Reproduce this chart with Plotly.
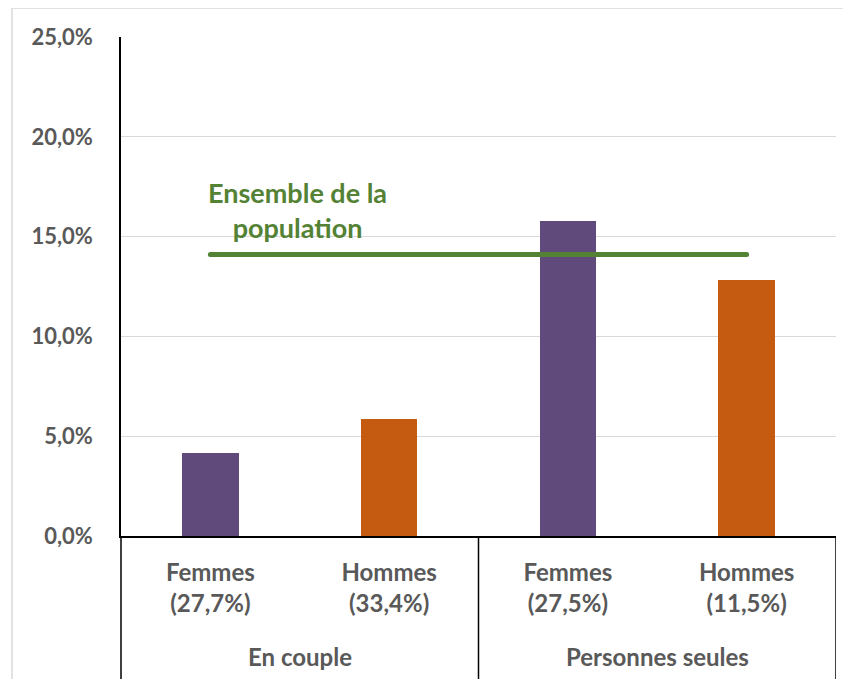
import plotly.graph_objects as go

# ---- data ----
categories = ["Femmes<br>(27,7%)", "Hommes<br>(33,4%)", "Femmes<br>(27,5%)", "Hommes<br>(11,5%)"]
groups = ["En couple", "Personnes seules"]
values = [0.0415, 0.0585, 0.158, 0.1285]
bar_colors = ["#604A7B", "#C55A11", "#604A7B", "#C55A11"]
ensemble_value = 0.141
ensemble_label = "Ensemble de la<br>population"
y_ticks = [0, 0.05, 0.10, 0.15, 0.20, 0.25]

OFF = 8  # page body margin
W, H = 851 - OFF, 679 - OFF
# target plot area in window pixels
PX0, PX1, PY0, PY1 = 121, 836, 37, 536
L = PX0 - OFF
R = W - (PX1 - OFF)
T = PY0 - OFF
B = H - (PY1 - OFF)
pw = PX1 - PX0
ph = PY1 - PY0

xpos = list(range(len(categories)))

fig = go.Figure()
fig.add_trace(go.Bar(
    x=xpos, y=values, marker_color=bar_colors, width=0.315,
    marker_line_width=0, hoverinfo="skip", showlegend=False,
))
fig.add_trace(go.Scatter(
    x=[xpos[0], xpos[-1]], y=[ensemble_value, ensemble_value],
    mode="lines+markers", line=dict(color="#548235", width=5),
    marker=dict(color="#548235", size=5, symbol="circle", line_width=0),
    hoverinfo="skip", showlegend=False,
))

gray = "#595959"
font_family = "Lato, Open Sans, sans-serif"

def px_to_xpaper(px):  # window px
    return (px - PX0) / pw

def px_to_ypaper(py):  # window px
    return (PY1 - py) / ph

shapes = []
# outer light border (top & left)
shapes.append(dict(type="line", xref="paper", yref="paper",
                   x0=px_to_xpaper(12), x1=px_to_xpaper(860), y0=px_to_ypaper(8), y1=px_to_ypaper(8),
                   line=dict(color="#D9D9D9", width=1.5)))
shapes.append(dict(type="line", xref="paper", yref="paper",
                   x0=px_to_xpaper(12), x1=px_to_xpaper(12), y0=px_to_ypaper(8), y1=px_to_ypaper(690),
                   line=dict(color="#D9D9D9", width=1.5)))
# left axis extension down through label area
shapes.append(dict(type="line", xref="paper", yref="paper",
                   x0=0, x1=0, y0=0, y1=px_to_ypaper(690),
                   line=dict(color="black", width=1.5)))
# group dividers
for xd in [1.5, 3.5]:
    shapes.append(dict(type="line", xref="x", yref="paper",
                       x0=xd, x1=xd, y0=0, y1=px_to_ypaper(690),
                       line=dict(color="black", width=1.5)))

annotations = []
group_centers = [0.5, 2.5]
for g, c in zip(groups, group_centers):
    annotations.append(dict(x=c, xref="x", y=px_to_ypaper(656), yref="paper",
                            text=g, showarrow=False, yanchor="middle",
                            font=dict(family=font_family, size=24, color=gray, weight="bold")))
annotations.append(dict(x=0.49, xref="x", y=px_to_ypaper(210), yref="paper",
                        text=ensemble_label, showarrow=False, yanchor="middle",
                        font=dict(family=font_family, size=27, color="#548235", weight="bold")))

fig.update_layout(
    width=W, height=H,
    margin=dict(l=L, r=R, t=T, b=B, pad=0),
    paper_bgcolor="white", plot_bgcolor="white",
    separators=", ",
    bargap=0,
    shapes=shapes,
    annotations=annotations,
    xaxis=dict(
        range=[-0.5, 3.5], tickvals=xpos, ticktext=categories,
        showgrid=False, zeroline=False, showline=True, linecolor="black", linewidth=1.5,
        ticks="", tickfont=dict(family=font_family, size=24, color=gray, weight="bold"),
        ticklabelstandoff=14, fixedrange=True,
    ),
    yaxis=dict(
        range=[0, 0.25], tickvals=y_ticks, tickformat=".1%",
        showgrid=True, gridcolor="#D9D9D9", gridwidth=1,
        zeroline=False, showline=True, linecolor="black", linewidth=1.5,
        ticks="", tickfont=dict(family=font_family, size=22, color=gray, weight="bold"),
        ticklabelstandoff=22, fixedrange=True,
    ),
)

fig.write_html("out.html")
